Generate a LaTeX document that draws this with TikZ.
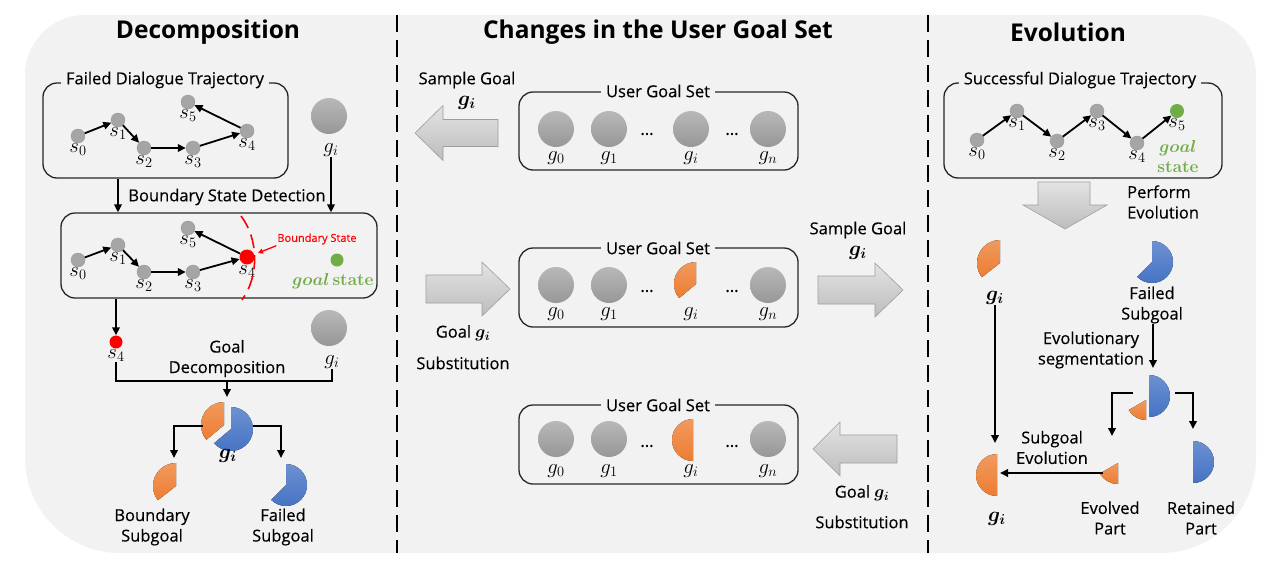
\documentclass[tikz,border=0pt]{standalone}
\usepackage[no-math]{fontspec}
\setmainfont{Open Sans}[UprightFeatures={FakeBold=0.35}]
\usepackage{bm}
\usetikzlibrary{arrows.meta}
\definecolor{bgc}{HTML}{F2F2F2}
\definecolor{ndg}{HTML}{A5A5A5}
\definecolor{orng}{HTML}{ED7D31}
\definecolor{blu}{HTML}{4472C4}
\definecolor{grn}{HTML}{70AD47}
\definecolor{balltop}{HTML}{B8B8B8}
\definecolor{ballbot}{HTML}{979797}
\newcommand{\piece}[6]{\fill[#6] (#1,#2) -- ++({-(#4)}:#3) arc[start angle={-(#4)}, end angle={-(#5)}, radius=#3] -- cycle;}
\tikzset{
  st/.style={circle, fill=ndg, draw=black!40, line width=0.4pt, minimum size=14pt, inner sep=0pt, label distance=-1pt},
  sl/.style={font=\fontsize{20.74}{21}\selectfont, inner sep=0.5pt},
  ml/.style={font=\fontsize{20.74}{21}\selectfont, inner sep=0.5pt},
  arr/.style={line width=1.8pt, -{Triangle[length=8pt,width=7.5pt]}},
  conn/.style={line width=1.8pt},
  box/.style={draw=black!85, line width=1.3pt, rounded corners=14pt, inner sep=0pt},
  boxlbl/.style={fill=bgc, font=\fontsize{16.5}{18}\selectfont, inner xsep=5pt, inner ysep=1pt},
  tx/.style={font=\fontsize{16.5}{20.5}\selectfont, align=center, inner sep=0pt},
  ttl/.style={font=\fontsize{24.5}{27}\selectfont\bfseries, inner sep=0pt},
  gtx/.style={text=grn, font=\fontsize{17.28}{18}\selectfont, inner sep=0pt},
  ball/.style={circle, minimum size=36pt, inner sep=0pt, top color=balltop, bottom color=ballbot},
  blk/.style={top color=black!11, bottom color=black!26, draw=black!38, line width=0.6pt},
  opie/.style={top color=orng!78!white, bottom color=orng},
  bpie/.style={top color=blu!78!white, bottom color=blu},
}
\begin{document}
\begin{tikzpicture}[x=1pt,y=-1pt]
\useasboundingbox (0,0) rectangle (1270,568);
% background panel
\fill[bgc] (25,75) .. controls (25,41.9) and (51.9,15) .. (85,15) -- (1196,15)
  .. controls (1229.1,15) and (1256,41.9) .. (1256,75) -- (1256,458)
  .. controls (1256,510.4) and (1213.4,553) .. (1161,553) -- (120,553)
  .. controls (67.6,553) and (25,510.4) .. (25,458) -- cycle;
% dividers
\draw[line width=2.6pt, dash pattern=on 17pt off 8pt] (397,15) -- (397,553);
\draw[line width=2.6pt, dash pattern=on 17pt off 8pt] (928,15) -- (928,553);
% titles
\node[ttl] (t1) at (208,32) {Decomposition};
\node[ttl] (t2) at (658,32) {Changes in the User Goal Set};
\node[ttl] (t3) at (1068,32) {Evolution};

%================ LEFT PANEL ================
\node[box, minimum width=245pt, minimum height=95pt] (fdt) at (165.5,130.5) {};
\node[boxlbl] (fdtl) at (165,80) {Failed Dialogue Trajectory};
\node[st, label={[sl]below:$s_0$}] (a0) at (78,136) {};
\node[st, label={[sl]below:$s_1$}] (a1) at (118,120) {};
\node[st, label={[sl]below:$s_2$}] (a2) at (144,148) {};
\node[st, label={[sl]below:$s_3$}] (a3) at (193,148) {};
\node[st, label={[sl]below:$s_4$}] (a4) at (247,131) {};
\node[st, label={[sl]below:$s_5$}] (a5) at (188,102) {};
\draw[arr] (a0) -- (a1);
\draw[arr] (a1) -- (a2);
\draw[arr] (a2) -- (a3);
\draw[arr] (a3) -- (a4);
\draw[arr] (a4) -- (a5);
\node[ball] (gA) at (329,116) {};
\node[ml] (gAl) at (331,150) {$g_i$};

\node[tx] (bsd) at (227,197) {Boundary State Detection};
\node[box, minimum width=316pt, minimum height=85pt] (dbox) at (219,255.5) {};
\draw[arr] (fdt.south -| a1) -- (dbox.north -| a1);
\draw[arr] (gAl.south) -- (dbox.north -| gAl);

\node[st, label={[sl]below:$s_0$}] (c0) at (78,260) {};
\node[st, label={[sl]below:$s_1$}] (c1) at (118,245) {};
\node[st, label={[sl]below:$s_2$}] (c2) at (144,272) {};
\node[st, label={[sl]below:$s_3$}] (c3) at (193,272) {};
\node[st, fill=red, draw=none, minimum size=15pt, label={[sl]below:$s_4$}] (c4) at (247,257) {};
\node[st, label={[sl]below:$s_5$}] (c5) at (188,228) {};
\draw[arr] (c0) -- (c1);
\draw[arr] (c1) -- (c2);
\draw[arr] (c2) -- (c3);
\draw[arr] (c3) -- (c4);
\draw[arr] (c4) -- (c5);
\draw[red, line width=1.6pt, dash pattern=on 14pt off 7pt] (241,216) .. controls (258,238) and (260,275) .. (242,300);
\node[font=\fontsize{11}{12}\selectfont, text=red, inner sep=1pt] (bsl) at (317,239) {Boundary State};
\coordinate (arcp) at (258,253);
\draw[red, line width=1.3pt, -{Triangle[length=5pt,width=5pt]}] (bsl.south west) -- (arcp);
\node[st, fill=grn, draw=none, minimum size=13pt] (gd) at (337,260) {};
\node[gtx] (gst) at (333,281) {$\bm{goal}\,\mathbf{state}$};

\node[st, fill=red, draw=none, minimum size=13pt] (r4) at (116,342) {};
\node[sl, anchor=north] (r4l) at (116,349) {$s_4$};
\draw[arr] (dbox.south -| r4) -- (r4.north);
\node[ball] (gB) at (329,328) {};
\node[ml] (gBl) at (332,362) {$g_i$};
\node[tx] (gdec) at (227,358.5) {Goal\\Decomposition};
\coordinate (jn) at (227,381);
\coordinate (pieT) at (227,397);
\draw[conn] (r4l.south) |- (jn) -| (gBl.south);
\draw[arr] (jn) -- (pieT);
% decomposed goal
\piece{231}{429}{22}{220}{450}{bpie}
\piece{224}{425}{23}{90}{220}{opie}
\node[ml] (gPl) at (228,456) {$\bm{g_i}$};
\coordinate (pLw) at (203,426);
\coordinate (pLe) at (253,426);
\coordinate (bsT) at (174,458);
\coordinate (fsT) at (281,458);
\draw[arr] (pLw) -| (bsT);
\draw[arr] (pLe) -| (fsT);
\piece{176}{486}{23}{90}{218}{opie}
\piece{286}{485}{21}{225}{450}{bpie}
\node[tx] (bsg) at (152,527) {Boundary\\Subgoal};
\node[tx] (fsg) at (283,527) {Failed\\Subgoal};

%================ MIDDLE PANEL ================
% row 1
\node[box, minimum width=279pt, minimum height=78pt] (u1) at (658.5,131) {};
\node[boxlbl] (u1l) at (658,91) {User Goal Set};
\node[ball] (p10) at (556,129) {};
\node[ball] (p11) at (609,129) {};
\node[ball] (p1i) at (691,129) {};
\node[ball] (p1n) at (768,129) {};
\node[ml] at (556,158) {$g_0$};
\node[ml] at (609,158) {$g_1$};
\node[ml] at (691,158) {$g_i$};
\node[ml] at (768,158) {$g_n$};
\node[tx] at (647,134) {...};
\node[tx] at (732,134) {...};
\shadedraw[blk] (415,133) -- (443,105.5) -- (443,119.5) -- (498,119.5) -- (498,146.5) -- (443,146.5) -- (443,160.5) -- cycle;
\node[tx] (sg1) at (467,80) {Sample Goal};
\node[ml] (sg1g) at (467,103) {$\bm{g_i}$};
% row 2
\node[box, minimum width=279pt, minimum height=79pt] (u2) at (658.5,287.5) {};
\node[boxlbl] (u2l) at (658,248) {User Goal Set};
\node[ball] (p20) at (556,285) {};
\node[ball] (p21) at (609,285) {};
\node[ball] (p2n) at (768,285) {};
\piece{696}{284}{22}{90}{220}{opie}
\node[ml] at (556,314) {$g_0$};
\node[ml] at (609,314) {$g_1$};
\node[ml] at (691,314) {$g_i$};
\node[ml] at (768,314) {$g_n$};
\node[tx] at (647,291) {...};
\node[tx] at (732,291) {...};
\shadedraw[blk] (510,289) -- (482,262) -- (482,275) -- (426,275) -- (426,303) -- (482,303) -- (482,316) -- cycle;
\node[tx] (gs1) at (463,333) {Goal $\bm{g_i}$};
\node[tx] (gs1b) at (463,363) {Substitution};
\shadedraw[blk] (903,290) -- (875,263) -- (875,276) -- (818,276) -- (818,304) -- (875,304) -- (875,317) -- cycle;
\node[tx] (sg2) at (858,230) {Sample Goal};
\node[ml] (sg2g) at (858,253) {$\bm{g_i}$};
% row 3
\node[box, minimum width=279pt, minimum height=79pt] (u3) at (658.5,444.5) {};
\node[boxlbl] (u3l) at (658,405) {User Goal Set};
\node[ball] (p30) at (556,439) {};
\node[ball] (p31) at (609,439) {};
\node[ball] (p3n) at (768,439) {};
\piece{693}{440}{21}{90}{270}{opie}
\node[ml] at (556,471) {$g_0$};
\node[ml] at (609,471) {$g_1$};
\node[ml] at (691,471) {$g_i$};
\node[ml] at (768,471) {$g_n$};
\node[tx] at (647,446) {...};
\node[tx] at (732,446) {...};
\shadedraw[blk] (813,449) -- (840,422) -- (840,435) -- (897,435) -- (897,463) -- (840,463) -- (840,476) -- cycle;
\node[tx] (gs2) at (862,493) {Goal $\bm{g_i}$};
\node[tx] (gs2b) at (862,522) {Substitution};

%================ RIGHT PANEL ================
\node[box, minimum width=278pt, minimum height=95pt] (sdt) at (1083,130.5) {};
\node[boxlbl] (sdtl) at (1080,80) {Successful Dialogue Trajectory};
\node[st, label={[sl]below:$s_0$}] (b0) at (977,140) {};
\node[st, label={[sl]below:$s_1$}] (b1) at (1017,111) {};
\node[st, label={[sl]below:$s_2$}] (b2) at (1057,141) {};
\node[st, label={[sl]below:$s_3$}] (b3) at (1097,111) {};
\node[st, label={[sl]below:$s_4$}] (b4) at (1137,143) {};
\node[st, fill=grn, draw=none, label={[sl]below:$s_5$}] (b5) at (1177,111) {};
\draw[arr] (b0) -- (b1);
\draw[arr] (b1) -- (b2);
\draw[arr] (b2) -- (b3);
\draw[arr] (b3) -- (b4);
\draw[arr] (b4) -- (b5);
\node[gtx] (gl2) at (1178,148) {$\bm{goal}$};
\node[gtx] (gl3) at (1178,167) {$\mathbf{state}$};
\shadedraw[blk] (1038,182) -- (1090,182) -- (1090,205) -- (1107,205) -- (1065,229) -- (1023,205) -- (1038,205) -- cycle;
\node[tx, align=left, anchor=west] (pev) at (1127,202) {Perform\\Evolution};
% pieces
\piece{1000}{263}{23}{90}{218}{opie}
\node[ml] (gUl) at (995,298) {$\bm{g_i}$};
\piece{1152}{262}{21}{225}{450}{bpie}
\node[tx] (fsr) at (1152,305) {Failed\\Subgoal};
\node[tx] (evs) at (1091,350) {Evolutionary\\segmentation};
\coordinate (sgT) at (1153,368);
\draw[arr] (fsr.south -| sgT) -- (sgT);
\piece{1149}{396}{21}{-90}{90}{bpie}
\piece{1146}{400}{20}{210}{270}{opie}
\coordinate (sgW) at (1133,393);
\coordinate (sgE) at (1175,393);
\coordinate (epT) at (1112,436);
\coordinate (rpT) at (1193,429);
\draw[arr] (sgW) -| (epT);
\draw[arr] (sgE) -| (rpT);
\piece{1118}{463}{21}{210}{270}{opie}
\piece{1193}{462}{21}{-90}{90}{bpie}
\node[tx] (evp) at (1110,518) {Evolved\\Part};
\node[tx] (rtp) at (1201,518) {Retained\\Part};
\node[tx] (sev) at (1052,447.5) {Subgoal\\Evolution};
\piece{997}{475}{21}{90}{270}{opie}
\coordinate (gfT) at (995,443);
\coordinate (evA) at (1103,473);
\coordinate (evB) at (1000,473);
\draw[arr] (gUl.south) -- (gfT);
\draw[arr] (evA) -- (evB);
\node[ml] (gFl) at (997,519) {$\bm{g_i}$};
\end{tikzpicture}
\end{document}
